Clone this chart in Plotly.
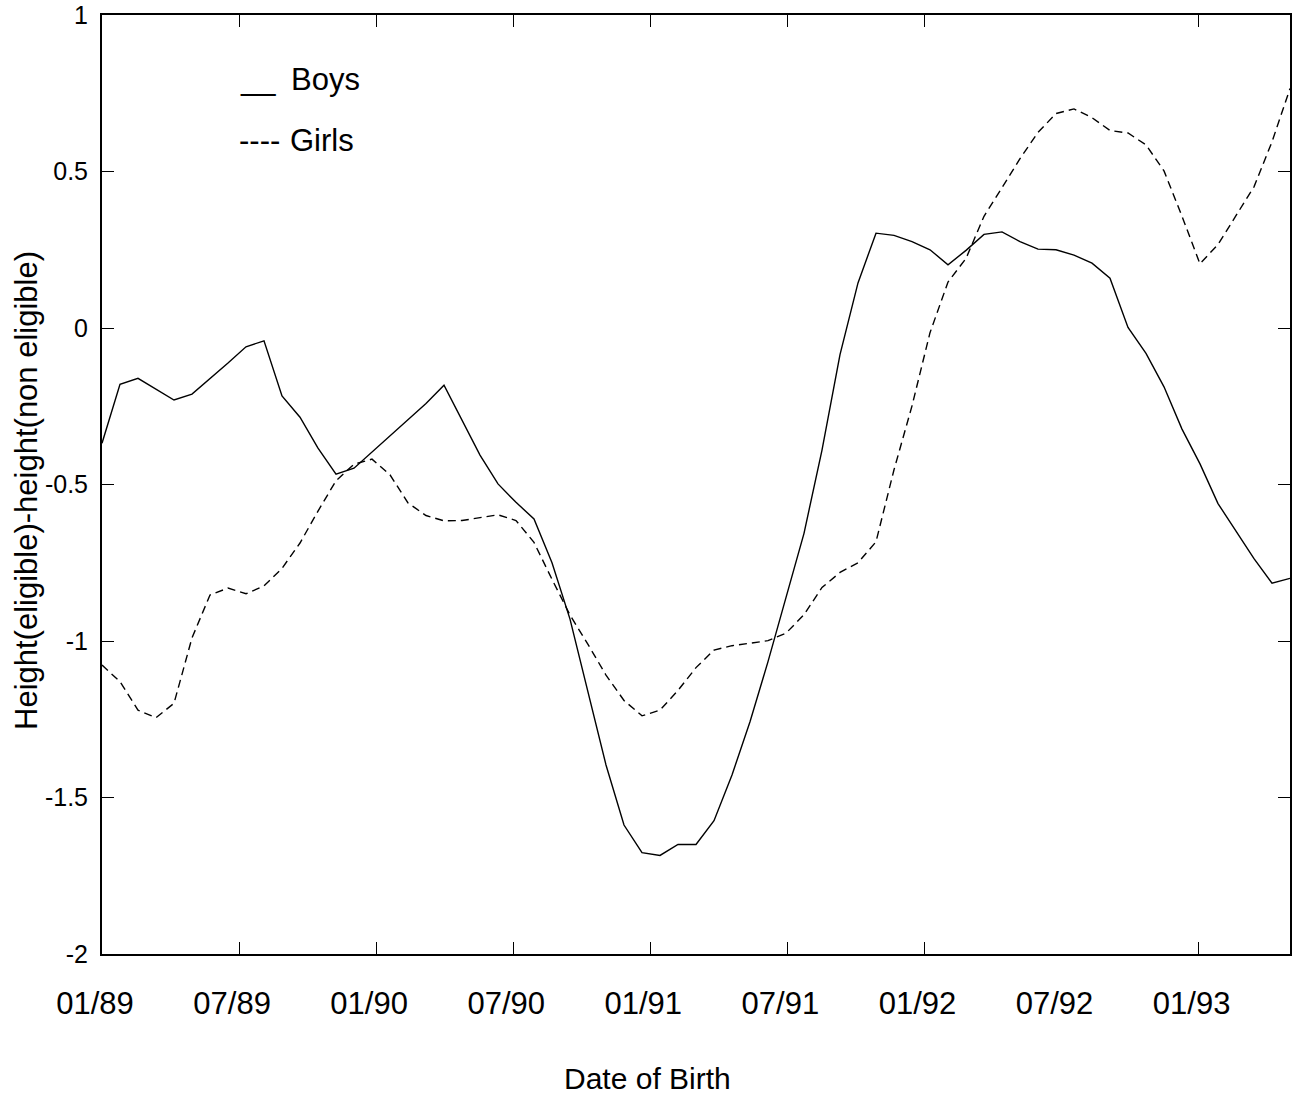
import plotly.graph_objects as go

# ---------------- data ----------------
# 67 equally spaced samples from 01/89 (month 0) to 05/93 (month 52)
n_samples = 67
months = [round(i * 52 / (n_samples - 1), 4) for i in range(n_samples)]

boys = [-0.368, -0.180, -0.161, -0.195, -0.230, -0.211, -0.162, -0.112, -0.060, -0.041,
        -0.217, -0.285, -0.384, -0.467, -0.448, -0.396, -0.345, -0.293, -0.241, -0.183,
        -0.295, -0.406, -0.498, -0.557, -0.610, -0.750, -0.930, -1.167, -1.396, -1.588,
        -1.676, -1.685, -1.650, -1.650, -1.574, -1.428, -1.258, -1.066, -0.858, -0.656,
        -0.390, -0.085, 0.144, 0.303, 0.296, 0.276, 0.250, 0.202, 0.248, 0.299,
        0.307, 0.276, 0.252, 0.250, 0.233, 0.207, 0.159, 0.002, -0.081, -0.188,
        -0.323, -0.434, -0.561, -0.649, -0.737, -0.815, -0.800]

girls = [-1.077, -1.130, -1.221, -1.245, -1.199, -0.990, -0.853, -0.831, -0.849, -0.824,
         -0.768, -0.687, -0.585, -0.488, -0.435, -0.419, -0.469, -0.559, -0.599, -0.616,
         -0.615, -0.605, -0.597, -0.615, -0.685, -0.803, -0.917, -1.011, -1.109, -1.190,
         -1.239, -1.221, -1.158, -1.085, -1.029, -1.015, -1.006, -0.999, -0.975, -0.916,
         -0.829, -0.781, -0.750, -0.683, -0.453, -0.249, -0.015, 0.147, 0.222, 0.357,
         0.448, 0.541, 0.625, 0.685, 0.700, 0.672, 0.631, 0.623, 0.585, 0.502,
         0.357, 0.205, 0.267, 0.357, 0.451, 0.595, 0.765]

tick_months = [0, 6, 12, 18, 24, 30, 36, 42, 48]
tick_labels = ["01/89", "07/89", "01/90", "07/90", "01/91", "07/91", "01/92", "07/92", "01/93"]
tick_mark_months = [6, 12, 18, 24, 30, 36, 48]

y_ticks = [-2, -1.5, -1, -0.5, 0, 0.5, 1]
y_labels = ["-2", "-1.5", "-1", "-0.5", "0", "0.5", "1"]

x_title = "Date of Birth"
y_title = "Height(eligible)-height(non eligible)"
legend_names = ["Boys", "Girls"]

# ---------------- figure ----------------
FONT = "Liberation Sans, Arial, Helvetica, sans-serif"

fig = go.Figure()
fig.add_trace(go.Scatter(x=months, y=boys, mode="lines", name=legend_names[0],
                         line=dict(color="black", width=1.4), cliponaxis=False))
fig.add_trace(go.Scatter(x=months, y=girls, mode="lines", name=legend_names[1],
                         line=dict(color="black", width=1.4, dash="8px,5px"), cliponaxis=False))
# helper trace so the tick-mark axis (x2) is drawn
fig.add_trace(go.Scatter(x=[months[0]], y=[boys[0]], xaxis="x2", mode="lines",
                         line=dict(color="rgba(0,0,0,0)"), hoverinfo="skip"))

fig.update_layout(
    width=1292, height=1099,
    margin=dict(l=102, r=2, t=15, b=145, autoexpand=False),
    paper_bgcolor="white", plot_bgcolor="white",
    font=dict(family=FONT, color="black"),
    showlegend=False,
    xaxis=dict(range=[0, 52], tickmode="array", tickvals=tick_months, ticktext=tick_labels,
               ticks="", showgrid=False, zeroline=False, showline=True, linecolor="black",
               linewidth=2, mirror=True, automargin=False,
               tickfont=dict(size=31, family=FONT, color="black"),
               ticklabelstandoff=21, ticklabelshift=-7),
    xaxis2=dict(overlaying="x", side="bottom", range=[0, 52], tickmode="array",
                tickvals=tick_mark_months, ticks="inside", ticklen=12, tickwidth=1,
                tickcolor="black", showticklabels=False, showgrid=False, zeroline=False,
                showline=True, linecolor="black", linewidth=2, mirror="ticks",
                automargin=False),
    yaxis=dict(range=[-2, 1], tickmode="array", tickvals=y_ticks, ticktext=y_labels,
               ticks="inside", ticklen=12, tickwidth=1, tickcolor="black",
               showgrid=False, zeroline=False, showline=True, linecolor="black",
               linewidth=2, mirror="ticks", automargin=False,
               tickfont=dict(size=25, family=FONT, color="black"),
               ticklabelstandoff=7),
)

# axis titles
fig.add_annotation(text=x_title, xref="paper", yref="paper", x=(647 - 102) / 1188,
                   y=(954 - 1078) / 939, xanchor="center", yanchor="middle",
                   showarrow=False, font=dict(size=30, family=FONT, color="black"))
fig.add_annotation(text=y_title, xref="paper", yref="paper", x=(26 - 102) / 1188,
                   y=(954 - 491) / 939, xanchor="center", yanchor="middle", textangle=-90,
                   showarrow=False, font=dict(size=31, family=FONT, color="black"))

# in-plot legend made of text
legend_font = dict(size=31, family=FONT, color="black")
fig.add_annotation(text="__", xref="paper", yref="paper", x=(238 - 102) / 1188,
                   y=(954 - 79) / 939, xanchor="left", yanchor="middle",
                   showarrow=False, font=legend_font)
fig.add_annotation(text=legend_names[0], xref="paper", yref="paper", x=(289 - 102) / 1188,
                   y=(954 - 79) / 939, xanchor="left", yanchor="middle",
                   showarrow=False, font=legend_font)
fig.add_annotation(text="----", xref="paper", yref="paper", x=(237 - 102) / 1188,
                   y=(954 - 141) / 939, xanchor="left", yanchor="middle",
                   showarrow=False, font=legend_font)
fig.add_annotation(text=legend_names[1], xref="paper", yref="paper", x=(288 - 102) / 1188,
                   y=(954 - 141) / 939, xanchor="left", yanchor="middle",
                   showarrow=False, font=legend_font)

fig.write_html("out.html", config={"displayModeBar": False},
               post_script="document.body.style.margin='0';document.body.style.overflow='hidden';")
